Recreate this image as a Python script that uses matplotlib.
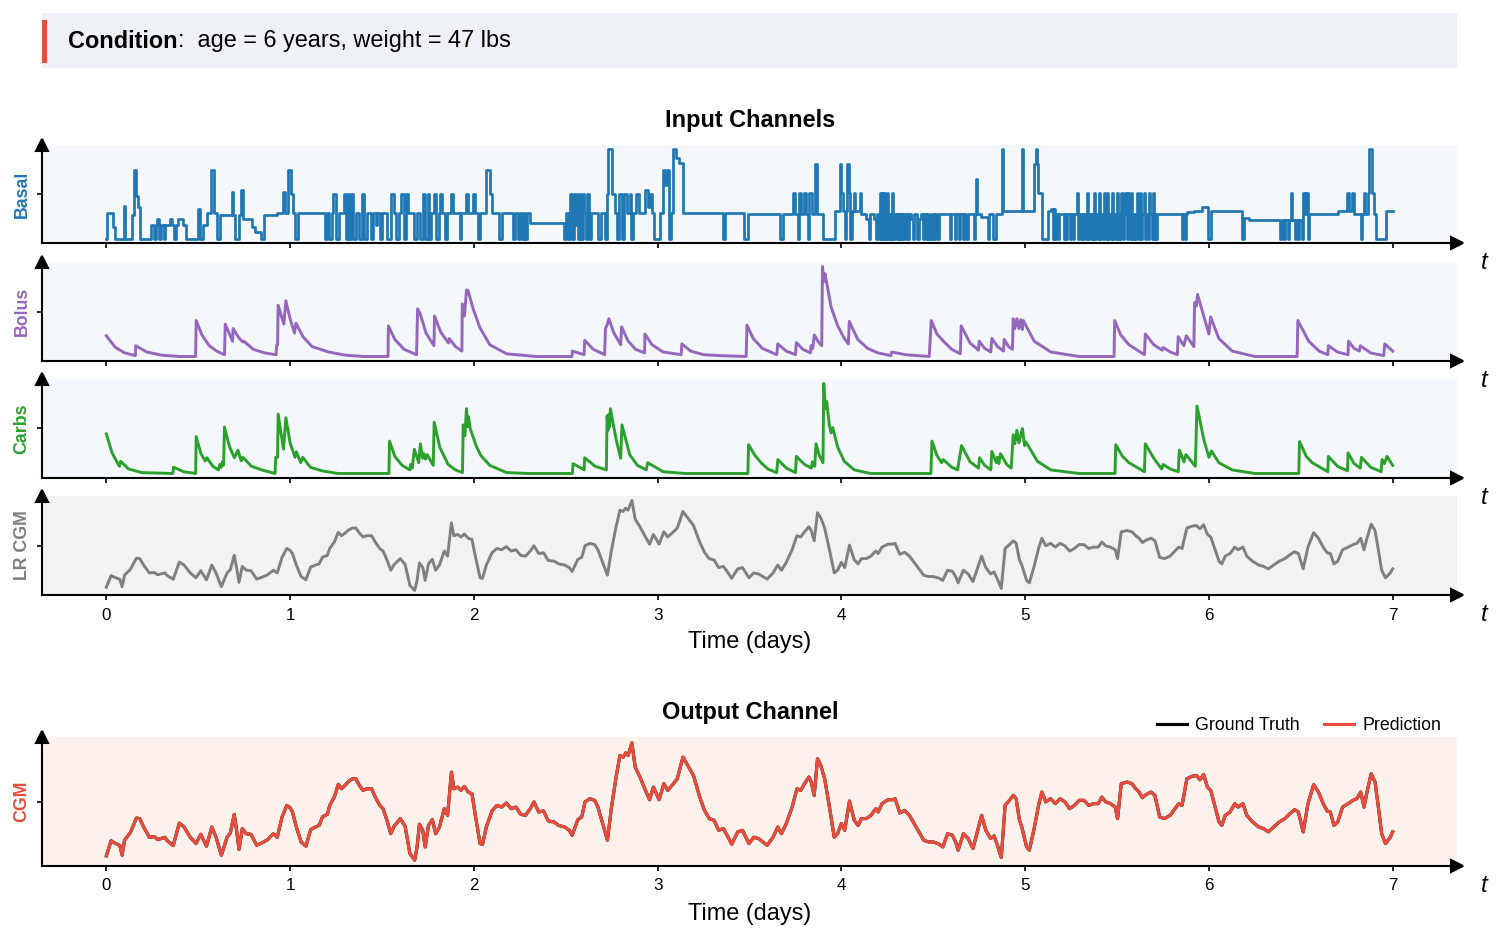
import numpy as np
import matplotlib.pyplot as plt
from matplotlib.patches import Rectangle

plt.rcParams['font.family'] = ['Liberation Sans', 'DejaVu Sans']

# ---- data (time in days, values normalised to each channel's range) ----
# basal rate: step changes (time, level)
basal_tv = [
    (0.000, 0.0), (0.005, 0.29), (0.034, 0.13), (0.047, 0.0), (0.094, 0.36), (0.104, 0.0), (0.138, 0.26),
    (0.148, 0.77), (0.161, 0.48), (0.174, 0.35), (0.184, 0.0), (0.242, 0.15), (0.260, 0.0), (0.268, 0.15),
    (0.278, 0.22), (0.288, 0.0), (0.299, 0.15), (0.312, 0.0), (0.322, 0.15), (0.345, 0.22), (0.358, 0.15),
    (0.369, 0.0), (0.379, 0.15), (0.390, 0.22), (0.416, 0.15), (0.436, 0.0), (0.501, 0.33), (0.512, 0.0),
    (0.527, 0.15), (0.548, 0.29), (0.571, 0.77), (0.587, 0.29), (0.600, 0.0), (0.618, 0.26), (0.683, 0.52),
    (0.691, 0.26), (0.701, 0.0), (0.722, 0.26), (0.732, 0.55), (0.743, 0.22), (0.795, 0.13), (0.810, 0.07),
    (0.842, 0.0), (0.857, 0.26), (0.930, 0.29), (0.961, 0.52), (0.974, 0.29), (0.990, 0.77), (1.005, 0.50),
    (1.016, 0.29), (1.029, 0.0), (1.042, 0.29), (1.190, 0.0), (1.200, 0.29), (1.210, 0.0), (1.226, 0.29),
    (1.236, 0.50), (1.249, 0.0), (1.268, 0.29), (1.296, 0.50), (1.304, 0.0), (1.314, 0.50), (1.322, 0.0),
    (1.332, 0.50), (1.343, 0.0), (1.356, 0.29), (1.377, 0.0), (1.392, 0.50), (1.403, 0.0), (1.418, 0.29),
    (1.439, 0.0), (1.449, 0.29), (1.465, 0.15), (1.475, 0.29), (1.491, 0.0), (1.501, 0.29), (1.527, 0.0),
    (1.548, 0.50), (1.564, 0.29), (1.579, 0.0), (1.595, 0.29), (1.605, 0.50), (1.618, 0.0), (1.631, 0.50),
    (1.644, 0.29), (1.675, 0.0), (1.688, 0.29), (1.709, 0.0), (1.725, 0.50), (1.735, 0.0), (1.748, 0.50),
    (1.756, 0.0), (1.766, 0.29), (1.782, 0.50), (1.792, 0.0), (1.808, 0.29), (1.818, 0.50), (1.829, 0.29),
    (1.844, 0.0), (1.855, 0.29), (1.875, 0.50), (1.886, 0.29), (1.922, 0.0), (1.932, 0.29), (1.956, 0.50),
    (1.969, 0.29), (1.995, 0.50), (2.005, 0.29), (2.021, 0.0), (2.034, 0.29), (2.068, 0.77), (2.088, 0.50),
    (2.099, 0.29), (2.138, 0.0), (2.151, 0.29), (2.213, 0.0), (2.223, 0.29), (2.239, 0.0), (2.249, 0.29),
    (2.260, 0.0), (2.273, 0.29), (2.281, 0.0), (2.291, 0.29), (2.306, 0.17), (2.488, 0.0), (2.504, 0.29),
    (2.514, 0.0), (2.525, 0.50), (2.535, 0.0), (2.545, 0.50), (2.553, 0.15), (2.561, 0.50), (2.569, 0.0),
    (2.577, 0.50), (2.584, 0.0), (2.592, 0.50), (2.600, 0.29), (2.608, 0.0), (2.618, 0.50), (2.629, 0.0),
    (2.639, 0.29), (2.675, 0.0), (2.691, 0.29), (2.712, 0.0), (2.722, 0.50), (2.732, 1.0), (2.751, 0.50),
    (2.769, 0.29), (2.779, 0.0), (2.792, 0.50), (2.805, 0.0), (2.816, 0.50), (2.831, 0.29), (2.847, 0.50),
    (2.857, 0.0), (2.868, 0.29), (2.883, 0.50), (2.899, 0.29), (2.930, 0.55), (2.945, 0.35), (2.961, 0.50),
    (2.971, 0.29), (2.982, 0.0), (3.013, 0.29), (3.029, 0.77), (3.042, 0.60), (3.049, 0.77), (3.060, 0.0),
    (3.073, 0.29), (3.081, 1.0), (3.099, 0.90), (3.117, 0.85), (3.138, 0.29), (3.358, 0.0), (3.368, 0.29),
    (3.470, 0.0), (3.490, 0.27), (3.667, 0.0), (3.685, 0.27), (3.737, 0.51), (3.750, 0.27), (3.765, 0.0),
    (3.770, 0.51), (3.780, 0.27), (3.797, 0.51), (3.810, 0.27), (3.820, 0.0), (3.826, 0.51), (3.840, 0.27),
    (3.858, 0.84), (3.866, 0.27), (3.901, 0.0), (3.966, 0.31), (3.992, 0.84), (3.999, 0.51), (4.010, 0.31),
    (4.018, 0.0), (4.024, 0.31), (4.031, 0.84), (4.039, 0.51), (4.048, 0.0), (4.060, 0.31), (4.068, 0.51),
    (4.075, 0.31), (4.100, 0.51), (4.108, 0.27), (4.135, 0.22), (4.150, 0.0), (4.155, 0.27), (4.175, 0.22),
    (4.190, 0.0), (4.195, 0.27), (4.205, 0.0), (4.210, 0.51), (4.216, 0.0), (4.222, 0.51), (4.228, 0.0),
    (4.234, 0.51), (4.240, 0.0), (4.250, 0.51), (4.256, 0.0), (4.262, 0.27), (4.270, 0.0), (4.276, 0.51),
    (4.282, 0.0), (4.290, 0.27), (4.300, 0.0), (4.306, 0.27), (4.312, 0.0), (4.318, 0.27), (4.324, 0.0),
    (4.330, 0.27), (4.336, 0.0), (4.342, 0.27), (4.350, 0.0), (4.356, 0.27), (4.364, 0.0), (4.370, 0.27),
    (4.380, 0.22), (4.390, 0.0), (4.396, 0.27), (4.410, 0.0), (4.420, 0.22), (4.435, 0.27), (4.445, 0.0),
    (4.450, 0.27), (4.460, 0.0), (4.466, 0.27), (4.474, 0.0), (4.480, 0.27), (4.490, 0.0), (4.498, 0.27),
    (4.506, 0.0), (4.512, 0.27), (4.520, 0.0), (4.530, 0.27), (4.590, 0.0), (4.597, 0.27), (4.617, 0.0),
    (4.625, 0.27), (4.640, 0.0), (4.645, 0.27), (4.660, 0.0), (4.665, 0.27), (4.680, 0.0), (4.690, 0.27),
    (4.720, 0.0), (4.728, 0.27), (4.732, 0.67), (4.738, 0.27), (4.760, 0.24), (4.800, 0.0), (4.806, 0.27),
    (4.826, 0.0), (4.840, 0.27), (4.876, 1.0), (4.882, 0.31), (4.985, 1.0), (4.990, 0.31), (5.048, 0.84),
    (5.058, 1.0), (5.066, 0.84), (5.072, 0.51), (5.090, 0.0), (5.125, 0.31), (5.140, 0.33), (5.150, 0.0),
    (5.155, 0.33), (5.165, 0.0), (5.170, 0.27), (5.180, 0.0), (5.185, 0.27), (5.210, 0.0), (5.215, 0.27),
    (5.225, 0.0), (5.230, 0.27), (5.245, 0.0), (5.250, 0.27), (5.262, 0.0), (5.268, 0.27), (5.280, 0.51),
    (5.290, 0.0), (5.294, 0.27), (5.302, 0.0), (5.308, 0.27), (5.316, 0.0), (5.322, 0.27), (5.330, 0.0),
    (5.336, 0.51), (5.342, 0.0), (5.348, 0.27), (5.356, 0.0), (5.362, 0.27), (5.370, 0.0), (5.376, 0.51),
    (5.382, 0.0), (5.388, 0.27), (5.396, 0.0), (5.402, 0.51), (5.408, 0.0), (5.414, 0.27), (5.422, 0.0),
    (5.428, 0.51), (5.434, 0.27), (5.440, 0.0), (5.446, 0.51), (5.452, 0.0), (5.458, 0.27), (5.466, 0.0),
    (5.472, 0.51), (5.478, 0.0), (5.484, 0.27), (5.492, 0.0), (5.498, 0.51), (5.504, 0.0), (5.510, 0.27),
    (5.518, 0.0), (5.524, 0.51), (5.530, 0.0), (5.536, 0.27), (5.546, 0.51), (5.552, 0.0), (5.558, 0.51),
    (5.564, 0.27), (5.572, 0.0), (5.578, 0.51), (5.584, 0.0), (5.590, 0.27), (5.600, 0.0), (5.606, 0.51),
    (5.612, 0.27), (5.620, 0.0), (5.626, 0.51), (5.632, 0.0), (5.638, 0.27), (5.648, 0.51), (5.654, 0.0),
    (5.660, 0.27), (5.668, 0.0), (5.674, 0.51), (5.680, 0.27), (5.688, 0.0), (5.694, 0.51), (5.700, 0.0),
    (5.706, 0.27), (5.714, 0.0), (5.720, 0.27), (5.854, 0.0), (5.860, 0.27), (5.870, 0.0), (5.876, 0.27),
    (5.880, 0.30), (5.920, 0.31), (5.960, 0.35), (5.997, 0.0), (6.010, 0.31), (6.180, 0.0), (6.190, 0.23),
    (6.219, 0.21), (6.388, 0.0), (6.396, 0.21), (6.410, 0.0), (6.416, 0.21), (6.430, 0.0), (6.436, 0.21),
    (6.444, 0.51), (6.452, 0.21), (6.466, 0.0), (6.472, 0.21), (6.486, 0.0), (6.492, 0.21), (6.504, 0.0),
    (6.512, 0.51), (6.522, 0.27), (6.530, 0.51), (6.538, 0.0), (6.546, 0.27), (6.701, 0.31), (6.753, 0.51),
    (6.760, 0.31), (6.780, 0.51), (6.792, 0.27), (6.826, 0.0), (6.835, 0.27), (6.844, 0.51), (6.850, 0.27),
    (6.866, 0.51), (6.872, 1.0), (6.890, 0.51), (6.900, 0.27), (6.909, 0.0), (6.961, 0.31), (7.000, 0.31)]

bolus_tv = [
    (0.000, 0.23), (0.05, 0.10), (0.10, 0.04), (0.158, 0.01), (0.160, 0.12), (0.22, 0.05), (0.30, 0.015),
    (0.40, 0.0), (0.486, 0.0), (0.489, 0.40), (0.52, 0.24), (0.56, 0.12), (0.60, 0.06), (0.643, 0.02),
    (0.647, 0.36), (0.687, 0.17), (0.690, 0.31), (0.72, 0.21), (0.743, 0.16), (0.748, 0.17), (0.80, 0.08),
    (0.86, 0.04), (0.924, 0.02), (0.927, 0.13), (0.932, 0.13), (0.935, 0.57), (0.966, 0.36), (0.977, 0.62),
    (1.00, 0.42), (1.024, 0.26), (1.032, 0.37), (1.07, 0.22), (1.12, 0.11), (1.21, 0.05), (1.30, 0.015),
    (1.40, 0.0), (1.533, 0.0), (1.535, 0.34), (1.57, 0.19), (1.62, 0.08), (1.688, 0.02), (1.694, 0.53),
    (1.707, 0.48), (1.74, 0.26), (1.783, 0.12), (1.786, 0.45), (1.82, 0.27), (1.862, 0.15), (1.866, 0.20),
    (1.90, 0.11), (1.935, 0.06), (1.937, 0.585), (1.949, 0.45), (1.96, 0.74), (1.969, 0.73), (1.996, 0.53),
    (2.033, 0.32), (2.087, 0.13), (2.178, 0.03), (2.34, 0.0), (2.534, 0.0), (2.536, 0.06), (2.60, 0.02),
    (2.603, 0.18), (2.65, 0.08), (2.712, 0.02), (2.716, 0.31), (2.725, 0.35), (2.735, 0.42), (2.76, 0.27),
    (2.799, 0.13), (2.804, 0.33), (2.84, 0.17), (2.88, 0.08), (2.929, 0.04), (2.931, 0.25), (2.97, 0.13),
    (3.03, 0.05), (3.128, 0.02), (3.132, 0.14), (3.18, 0.06), (3.25, 0.02), (3.337, 0.01), (3.482, 0.0),
    (3.486, 0.35), (3.52, 0.20), (3.57, 0.09), (3.648, 0.02), (3.654, 0.14), (3.70, 0.06), (3.75, 0.02),
    (3.755, 0.155), (3.79, 0.08), (3.832, 0.04), (3.835, 0.12), (3.844, 0.09), (3.853, 0.24), (3.875, 0.16),
    (3.893, 0.12), (3.897, 1.0), (3.904, 0.83), (3.911, 0.92), (3.944, 0.55), (3.98, 0.34), (4.016, 0.20),
    (4.038, 0.14), (4.043, 0.39), (4.089, 0.19), (4.143, 0.09), (4.198, 0.04), (4.27, 0.01), (4.273, 0.05),
    (4.35, 0.02), (4.478, 0.0), (4.489, 0.40), (4.52, 0.25), (4.56, 0.16), (4.60, 0.08), (4.647, 0.03),
    (4.652, 0.34), (4.70, 0.15), (4.746, 0.07), (4.75, 0.17), (4.78, 0.09), (4.813, 0.05), (4.819, 0.20),
    (4.85, 0.11), (4.882, 0.06), (4.886, 0.19), (4.91, 0.11), (4.931, 0.08), (4.935, 0.42), (4.944, 0.31),
    (4.955, 0.42), (4.966, 0.31), (4.976, 0.41), (4.985, 0.30), (4.99, 0.40), (5.049, 0.17), (5.14, 0.05),
    (5.293, 0.0), (5.484, 0.0), (5.487, 0.40), (5.52, 0.24), (5.565, 0.13), (5.649, 0.02), (5.654, 0.25),
    (5.70, 0.13), (5.746, 0.07), (5.751, 0.10), (5.79, 0.05), (5.828, 0.02), (5.833, 0.22), (5.864, 0.12),
    (5.877, 0.23), (5.918, 0.11), (5.922, 0.60), (5.931, 0.56), (5.938, 0.69), (5.973, 0.44), (6.0, 0.25),
    (6.009, 0.44), (6.054, 0.20), (6.127, 0.06), (6.25, 0.0), (6.48, 0.0), (6.484, 0.40), (6.543, 0.17),
    (6.60, 0.06), (6.647, 0.02), (6.65, 0.12), (6.70, 0.05), (6.757, 0.02), (6.76, 0.17), (6.79, 0.09),
    (6.819, 0.06), (6.824, 0.12), (6.88, 0.04), (6.951, 0.01), (6.957, 0.14), (7.0, 0.06)]

carbs_tv = [
    (0.000, 0.44), (0.031, 0.23), (0.071, 0.08), (0.078, 0.135), (0.121, 0.05), (0.194, 0.01), (0.362, 0.0),
    (0.366, 0.07), (0.42, 0.02), (0.486, 0.0), (0.489, 0.41), (0.515, 0.22), (0.538, 0.14), (0.547, 0.175),
    (0.58, 0.08), (0.61, 0.04), (0.618, 0.10), (0.625, 0.07), (0.632, 0.13), (0.638, 0.09), (0.643, 0.515),
    (0.67, 0.30), (0.697, 0.175), (0.716, 0.26), (0.734, 0.14), (0.743, 0.18), (0.79, 0.08), (0.846, 0.04),
    (0.918, 0.0), (0.922, 0.18), (0.932, 0.18), (0.935, 0.66), (0.964, 0.27), (0.977, 0.62), (1.00, 0.34),
    (1.027, 0.18), (1.034, 0.24), (1.058, 0.12), (1.069, 0.18), (1.11, 0.07), (1.172, 0.03), (1.26, 0.0),
    (1.538, 0.0), (1.541, 0.36), (1.57, 0.19), (1.61, 0.09), (1.652, 0.04), (1.656, 0.10), (1.665, 0.06),
    (1.676, 0.27), (1.70, 0.12), (1.709, 0.33), (1.721, 0.17), (1.728, 0.22), (1.737, 0.16), (1.746, 0.21),
    (1.779, 0.09), (1.784, 0.57), (1.815, 0.29), (1.86, 0.10), (1.90, 0.04), (1.938, 0.01), (1.942, 0.54),
    (1.951, 0.42), (1.96, 0.72), (1.966, 0.52), (1.971, 0.63), (1.98, 0.50), (2.014, 0.30), (2.038, 0.20),
    (2.087, 0.09), (2.178, 0.01), (2.30, 0.0), (2.536, 0.0), (2.54, 0.11), (2.6, 0.04), (2.603, 0.175),
    (2.66, 0.08), (2.721, 0.04), (2.725, 0.64), (2.73, 0.48), (2.735, 0.66), (2.739, 0.52), (2.743, 0.72),
    (2.775, 0.37), (2.799, 0.17), (2.806, 0.54), (2.848, 0.21), (2.89, 0.09), (2.938, 0.04), (2.946, 0.12),
    (3.03, 0.02), (3.15, 0.0), (3.491, 0.0), (3.495, 0.32), (3.53, 0.20), (3.563, 0.12), (3.60, 0.05),
    (3.648, 0.01), (3.654, 0.155), (3.70, 0.06), (3.75, 0.01), (3.755, 0.19), (3.80, 0.10), (3.837, 0.06),
    (3.842, 0.13), (3.855, 0.08), (3.862, 0.33), (3.88, 0.20), (3.90, 0.12), (3.904, 1.0), (3.913, 0.72),
    (3.92, 0.80), (3.935, 0.53), (3.944, 0.45), (3.953, 0.51), (3.98, 0.29), (4.016, 0.135), (4.07, 0.04),
    (4.16, 0.0), (4.487, 0.0), (4.493, 0.36), (4.52, 0.20), (4.545, 0.12), (4.554, 0.155), (4.60, 0.07),
    (4.632, 0.04), (4.654, 0.31), (4.70, 0.13), (4.746, 0.06), (4.752, 0.175), (4.78, 0.09), (4.813, 0.04),
    (4.819, 0.245), (4.844, 0.12), (4.849, 0.18), (4.857, 0.11), (4.866, 0.22), (4.90, 0.10), (4.924, 0.06),
    (4.935, 0.43), (4.944, 0.33), (4.955, 0.48), (4.966, 0.34), (4.985, 0.50), (4.997, 0.31), (5.004, 0.35),
    (5.067, 0.135), (5.14, 0.04), (5.293, 0.0), (5.489, 0.0), (5.493, 0.32), (5.53, 0.19), (5.565, 0.12),
    (5.649, 0.02), (5.654, 0.33), (5.70, 0.17), (5.743, 0.05), (5.751, 0.10), (5.79, 0.05), (5.833, 0.02),
    (5.839, 0.26), (5.864, 0.13), (5.875, 0.21), (5.926, 0.08), (5.935, 0.75), (5.973, 0.37), (6.0, 0.18),
    (6.014, 0.25), (6.054, 0.12), (6.127, 0.04), (6.25, 0.0), (6.489, 0.0), (6.493, 0.355), (6.53, 0.19),
    (6.562, 0.12), (6.647, 0.02), (6.65, 0.19), (6.70, 0.08), (6.754, 0.03), (6.757, 0.23), (6.79, 0.11),
    (6.824, 0.06), (6.83, 0.18), (6.88, 0.07), (6.937, 0.02), (6.942, 0.155), (6.955, 0.11), (6.969, 0.19),
    (7.0, 0.09)]

cgm_tv = [
    (0.000, 0.042), (0.026, 0.17), (0.047, 0.15), (0.073, 0.13), (0.086, 0.048), (0.099, 0.175), (0.13, 0.237),
    (0.164, 0.363), (0.182, 0.357), (0.203, 0.287), (0.234, 0.20), (0.26, 0.205), (0.28, 0.18), (0.319, 0.20),
    (0.332, 0.17), (0.364, 0.13), (0.397, 0.32), (0.423, 0.287), (0.457, 0.20), (0.488, 0.146), (0.514, 0.225),
    (0.545, 0.124), (0.574, 0.287), (0.597, 0.20), (0.626, 0.048), (0.657, 0.20), (0.675, 0.237), (0.696, 0.394),
    (0.709, 0.259), (0.722, 0.096), (0.74, 0.273), (0.761, 0.23), (0.787, 0.225), (0.818, 0.132), (0.847, 0.152),
    (0.878, 0.18), (0.909, 0.23), (0.93, 0.20), (0.956, 0.37), (0.982, 0.47), (1.0, 0.45), (1.013, 0.414),
    (1.034, 0.287), (1.06, 0.16), (1.086, 0.124), (1.112, 0.265), (1.138, 0.287), (1.158, 0.30), (1.177, 0.375),
    (1.203, 0.394), (1.216, 0.47), (1.242, 0.546), (1.262, 0.648), (1.28, 0.611), (1.299, 0.64), (1.32, 0.676),
    (1.34, 0.696), (1.358, 0.696), (1.377, 0.64), (1.397, 0.597), (1.418, 0.611), (1.444, 0.611), (1.462, 0.546),
    (1.488, 0.47), (1.506, 0.442), (1.527, 0.344), (1.548, 0.23), (1.566, 0.293), (1.60, 0.358), (1.626, 0.293),
    (1.652, 0.062), (1.678, 0.006), (1.691, 0.118), (1.704, 0.31), (1.722, 0.259), (1.735, 0.118), (1.753, 0.30),
    (1.774, 0.35), (1.792, 0.23), (1.813, 0.287), (1.839, 0.442), (1.857, 0.386), (1.878, 0.752), (1.891, 0.611),
    (1.912, 0.625), (1.93, 0.597), (1.948, 0.631), (1.969, 0.583), (1.99, 0.569), (2.008, 0.386), (2.034, 0.146),
    (2.047, 0.14), (2.068, 0.287), (2.099, 0.423), (2.125, 0.47), (2.151, 0.456), (2.177, 0.49), (2.203, 0.442),
    (2.229, 0.456), (2.255, 0.394), (2.281, 0.386), (2.307, 0.442), (2.327, 0.50), (2.353, 0.414), (2.379, 0.423),
    (2.405, 0.338), (2.436, 0.33), (2.462, 0.30), (2.494, 0.287), (2.519, 0.259), (2.535, 0.217), (2.566, 0.35),
    (2.587, 0.372), (2.605, 0.50), (2.631, 0.527), (2.657, 0.513), (2.675, 0.456), (2.701, 0.316), (2.727, 0.175),
    (2.748, 0.442), (2.774, 0.71), (2.795, 0.893), (2.813, 0.879), (2.826, 0.915), (2.839, 0.893), (2.86, 1.0),
    (2.878, 0.794), (2.904, 0.71), (2.93, 0.611), (2.956, 0.518), (2.977, 0.625), (3.008, 0.518), (3.034, 0.654),
    (3.055, 0.597), (3.086, 0.654), (3.107, 0.696), (3.138, 0.879), (3.164, 0.808), (3.195, 0.724), (3.229, 0.541),
    (3.255, 0.428), (3.281, 0.358), (3.307, 0.344), (3.332, 0.259), (3.358, 0.273), (3.384, 0.20), (3.403, 0.141),
    (3.436, 0.245), (3.462, 0.259), (3.497, 0.146), (3.523, 0.20), (3.549, 0.189), (3.596, 0.132), (3.628, 0.20),
    (3.654, 0.287), (3.674, 0.23), (3.70, 0.316), (3.732, 0.456), (3.758, 0.611), (3.779, 0.597), (3.797, 0.648),
    (3.823, 0.71), (3.836, 0.668), (3.852, 0.555), (3.87, 0.865), (3.888, 0.808), (3.909, 0.696), (3.935, 0.456),
    (3.961, 0.20), (3.979, 0.23), (4.0, 0.316), (4.018, 0.259), (4.044, 0.507), (4.07, 0.344), (4.091, 0.30),
    (4.109, 0.358), (4.135, 0.358), (4.161, 0.386), (4.187, 0.442), (4.20, 0.414), (4.221, 0.485), (4.253, 0.518),
    (4.279, 0.518), (4.292, 0.527), (4.318, 0.406), (4.344, 0.428), (4.37, 0.386), (4.396, 0.316), (4.422, 0.245),
    (4.448, 0.175), (4.474, 0.16), (4.50, 0.16), (4.526, 0.146), (4.552, 0.118), (4.578, 0.23), (4.604, 0.217),
    (4.622, 0.16), (4.635, 0.09), (4.664, 0.23), (4.69, 0.189), (4.716, 0.104), (4.742, 0.259), (4.763, 0.386),
    (4.786, 0.259), (4.812, 0.189), (4.831, 0.211), (4.852, 0.118), (4.87, 0.028), (4.891, 0.47), (4.917, 0.518),
    (4.935, 0.555), (4.951, 0.527), (4.969, 0.344), (4.982, 0.287), (4.995, 0.20), (5.008, 0.118), (5.023, 0.09),
    (5.047, 0.259), (5.073, 0.47), (5.091, 0.583), (5.112, 0.50), (5.138, 0.527), (5.164, 0.485), (5.19, 0.527),
    (5.216, 0.50), (5.242, 0.442), (5.268, 0.47), (5.294, 0.513), (5.32, 0.513), (5.346, 0.47), (5.372, 0.485),
    (5.398, 0.485), (5.417, 0.541), (5.438, 0.50), (5.464, 0.485), (5.49, 0.456), (5.503, 0.358), (5.523, 0.654),
    (5.555, 0.668), (5.581, 0.654), (5.602, 0.611), (5.62, 0.583), (5.638, 0.535), (5.659, 0.563), (5.685, 0.583),
    (5.706, 0.555), (5.732, 0.372), (5.758, 0.358), (5.789, 0.386), (5.815, 0.442), (5.836, 0.485), (5.854, 0.47),
    (5.88, 0.696), (5.906, 0.715), (5.932, 0.724), (5.951, 0.687), (5.971, 0.732), (5.992, 0.625), (6.01, 0.597),
    (6.036, 0.442), (6.055, 0.33), (6.07, 0.30), (6.089, 0.386), (6.115, 0.414), (6.141, 0.485), (6.159, 0.456),
    (6.185, 0.485), (6.206, 0.386), (6.237, 0.33), (6.271, 0.287), (6.297, 0.273), (6.323, 0.245), (6.349, 0.282),
    (6.383, 0.33), (6.414, 0.358), (6.44, 0.40), (6.466, 0.434), (6.487, 0.414), (6.513, 0.245), (6.539, 0.485),
    (6.57, 0.645), (6.596, 0.583), (6.622, 0.485), (6.643, 0.423), (6.661, 0.414), (6.68, 0.30), (6.701, 0.33),
    (6.727, 0.456), (6.758, 0.485), (6.784, 0.513), (6.805, 0.527), (6.826, 0.583), (6.844, 0.456), (6.862, 0.597),
    (6.883, 0.738), (6.904, 0.668), (6.922, 0.456), (6.94, 0.23), (6.961, 0.146), (6.987, 0.20), (7.0, 0.245)]

BLUE, PURPLE, GREEN, GRAY, RED = '#1f77b4', '#9467bd', '#2ca02c', '#7f7f7f', '#e74c3c'
BG_IN, BG_LR, BG_OUT = '#f4f7fc', '#f2f2f2', '#fcf1eb'

W, H = 1500, 938
FS = 11.3
fig = plt.figure(figsize=(W / 150, H / 150), dpi=150)


def rect(top, bottom, left=42, right=1457):
    return [left / W, 1 - bottom / H, (right - left) / W, (bottom - top) / H]


def style(ax, label, color, bg, labels=False):
    ax.set_facecolor(bg)
    ax.spines['top'].set_visible(False)
    ax.spines['right'].set_visible(False)
    ax.spines['left'].set_linewidth(1.0)
    ax.spines['bottom'].set_linewidth(1.0)
    ax.set_xlim(-0.35, 7.35)
    lo, hi = ax.get_ylim()
    ax.set_yticks([(lo + hi) / 2])
    ax.set_yticklabels([])
    ax.set_xticks(range(8))
    ax.tick_params(length=2.5, width=0.8, labelsize=8.2)
    if not labels:
        ax.set_xticklabels([])
    ax.set_ylabel(label, color=color, fontweight='bold', fontsize=8.5, labelpad=-0.5)
    ax.plot(1, 0, '>k', ms=6, transform=ax.transAxes, clip_on=False)
    ax.plot(0, 1, '^k', ms=6, transform=ax.transAxes, clip_on=False)
    ax.annotate('t', xy=(1, 0), xycoords='axes fraction', xytext=(13, -9.5),
                textcoords='offset points', ha='center', va='center',
                fontsize=11.5, style='italic')


# condition banner
fig.patches.append(Rectangle((42 / W, 1 - 68 / H), 1415 / W, 55 / H, transform=fig.transFigure,
                             facecolor='#eef1f6', edgecolor='none'))
fig.patches.append(Rectangle((42 / W, 1 - 63 / H), 5 / W, 43 / H, transform=fig.transFigure,
                             facecolor=RED, edgecolor='none'))
t1 = fig.text(68 / W, 1 - 41 / H, 'Condition', fontsize=FS, fontweight='bold', va='center')
fig.canvas.draw()
bb = t1.get_window_extent()
fig.text(bb.x1 / fig.bbox.width, 1 - 41 / H, ':  age = 6 years, weight = 47 lbs', fontsize=FS, va='center')

fig.text(0.5, 1 - 121 / H, 'Input Channels', ha='center', va='center', fontsize=FS, fontweight='bold')
fig.text(0.5, 1 - 713 / H, 'Output Channel', ha='center', va='center', fontsize=FS, fontweight='bold')

ax_b = fig.add_axes(rect(145, 243))
bst, bsv = zip(*basal_tv)
ax_b.plot(bst, bsv, color=BLUE, lw=1.3, drawstyle='steps-post')
style(ax_b, 'Basal', BLUE, BG_IN)

ax_bo = fig.add_axes(rect(262, 361))
bt, bv = zip(*bolus_tv)
ax_bo.plot(bt, bv, color=PURPLE, lw=1.4)
style(ax_bo, 'Bolus', PURPLE, BG_IN)

ax_c = fig.add_axes(rect(379, 478))
ct, cv = zip(*carbs_tv)
ax_c.plot(ct, cv, color=GREEN, lw=1.4)
style(ax_c, 'Carbs', GREEN, BG_IN)

gt, gv = zip(*cgm_tv)
ax_lr = fig.add_axes(rect(496, 595))
ax_lr.plot(gt, gv, color=GRAY, lw=1.4)
style(ax_lr, 'LR CGM', GRAY, BG_LR, labels=True)
ax_lr.set_xlabel('Time (days)', fontsize=FS, labelpad=4)

ax_o = fig.add_axes(rect(737, 866))
ax_o.plot(gt, gv, color='black', lw=1.5, label='Ground Truth')
ax_o.plot(gt, gv, color=RED, lw=1.5, label='Prediction')
style(ax_o, 'CGM', RED, BG_OUT, labels=True)
ax_o.set_xlabel('Time (days)', fontsize=FS, labelpad=4.5)
ax_o.legend(loc='lower right', bbox_to_anchor=(0.995, 0.955), ncol=2, frameon=False, fontsize=8.5,
            handlelength=1.7, handletextpad=0.45, columnspacing=1.4, borderaxespad=0.1)

fig.savefig('out.png', dpi=150)
